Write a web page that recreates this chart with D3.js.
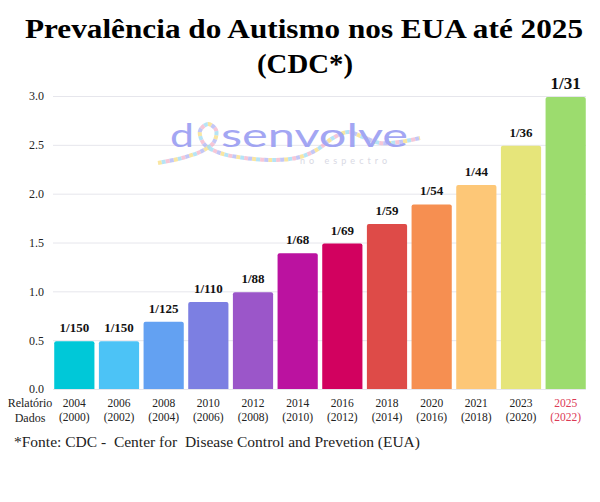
<!DOCTYPE html>
<html>
<head>
<meta charset="utf-8">
<script src="https://cdn.jsdelivr.net/npm/d3@7"></script>
<style>
  body { margin: 0; background: #fff; }
  svg { display: block; }
</style>
</head>
<body>
<script>
// dados
const anos = ['2004', '2006', '2008', '2010', '2012', '2014', '2016', '2018', '2020', '2021', '2023', '2025'];
const anosDados = ['(2000)', '(2002)', '(2004)', '(2006)', '(2008)', '(2010)', '(2012)', '(2014)', '(2016)', '(2018)', '(2020)', '(2022)'];
const valores = [0.5, 0.5, 0.7, 0.9, 1.0, 1.4, 1.5, 1.7, 1.9, 2.1, 2.5, 3.0];
const rotulos = ['1/150', '1/150', '1/125', '1/110', '1/88', '1/68', '1/69', '1/59', '1/54', '1/44', '1/36', '1/31'];
const cores = ['#00c8d8', '#4cc3f6', '#63a1f2', '#7c7fe2', '#9b56c9', '#bb12a0', '#d2015f', '#de4b48', '#f68f51', '#fdc777', '#e6e57a', '#9cdc6e'];
const ticksY = [0, 0.5, 1.0, 1.5, 2.0, 2.5, 3.0];

const width = 600;
const height = 502;
const serif = '"Liberation Serif", "Times New Roman", serif';

const svg = d3.select('body').append('svg')
    .attr('width', width)
    .attr('height', height);

const x = d3.scaleBand()
    .domain(anos)
    .range([52, 588])
    .paddingInner(0.1)
    .paddingOuter(0.05);

const y = d3.scaleLinear()
    .domain([0, 3])
    .range([389, 96]);

const ultimo = valores.length - 1;

// título
svg.append('text')
    .attr('x', 304).attr('y', 38)
    .attr('text-anchor', 'middle')
    .attr('textLength', 558)
    .attr('lengthAdjust', 'spacingAndGlyphs')
    .style('font', `bold 27px ${serif}`)
    .text('Prevalência do Autismo nos EUA até 2025');
svg.append('text')
    .attr('x', 305).attr('y', 73)
    .attr('text-anchor', 'middle')
    .attr('textLength', 96)
    .attr('lengthAdjust', 'spacingAndGlyphs')
    .style('font', `bold 27px ${serif}`)
    .text('(CDC*)');

// grade + eixo y
const eixoY = svg.append('g')
    .attr('transform', 'translate(53,0)')
    .call(d3.axisLeft(y).tickValues(ticksY).tickFormat(d3.format('.1f')).tickSize(-(586 - 53)).tickPadding(9));
eixoY.select('.domain').remove();
eixoY.selectAll('line').attr('stroke', '#e6e6ec').attr('stroke-width', 1);
eixoY.selectAll('text')
    .style('font', `12px ${serif}`)
    .attr('fill', '#222');

// marca d'água "desenvolve no espectro"
const logo = svg.append('g').attr('opacity', 0.8);
const fita = d3.line().curve(d3.curveCatmullRom);
const pontosFita = [[158, 163], [182, 158], [202, 151], [214, 142], [216, 130], [208, 124], [200, 131], [204, 144], [220, 153], [245, 158], [275, 160], [300, 157], [318, 149], [333, 138], [348, 132], [363, 137], [380, 143], [400, 142], [420, 138]];
['#f6d86e', '#8fd6f2', '#f3a9c2', '#a3a9f2'].forEach((c, i) => {
    logo.append('path')
        .attr('d', fita(pontosFita))
        .attr('fill', 'none')
        .attr('stroke', c)
        .attr('stroke-width', 4)
        .attr('stroke-dasharray', '4 12')
        .attr('stroke-dashoffset', -i * 4)
        .attr('opacity', 0.8);
});
logo.append('text')
    .attr('x', 170).attr('y', 147)
    .attr('textLength', 24)
    .attr('lengthAdjust', 'spacingAndGlyphs')
    .attr('fill', '#8d91f1')
    .style('font', '33px Lato, "Open Sans", sans-serif')
    .text('d');
logo.append('text')
    .attr('x', 221).attr('y', 147)
    .attr('textLength', 187)
    .attr('lengthAdjust', 'spacingAndGlyphs')
    .attr('fill', '#8d91f1')
    .style('font', '33px Lato, "Open Sans", sans-serif')
    .text('senvolve');
logo.append('text')
    .attr('x', 300).attr('y', 164)
    .attr('textLength', 87)
    .attr('fill', '#cfd0dd')
    .style('font', '9px Lato, "Open Sans", sans-serif')
    .text('no espectro');

// barras
svg.append('g').selectAll('path')
    .data(valores)
    .join('path')
    .attr('fill', (d, i) => cores[i])
    .attr('d', (d, i) => {
        const x0 = x(anos[i]), w = x.bandwidth(), y0 = y(d) + 1, r = 2;
        return `M${x0},${y(0)} V${y0 + r} Q${x0},${y0} ${x0 + r},${y0} H${x0 + w - r} Q${x0 + w},${y0} ${x0 + w},${y0 + r} V${y(0)} Z`;
    });

// rótulos das barras
svg.append('g').selectAll('text')
    .data(valores)
    .join('text')
    .attr('x', (d, i) => x(anos[i]) + x.bandwidth() / 2)
    .attr('y', (d, i) => y(d) - (i === ultimo ? 7 : 8))
    .attr('text-anchor', 'middle')
    .attr('fill', '#111')
    .style('font', (d, i) => `bold ${i === ultimo ? 17 : 13}px ${serif}`)
    .text((d, i) => rotulos[i]);

// eixo x
const corEixo = (d, i) => i === ultimo ? '#dc3a55' : '#222';
const eixoX = svg.append('g');
eixoX.selectAll('text.ano')
    .data(anos)
    .join('text')
    .attr('class', 'ano')
    .attr('x', d => x(d) + x.bandwidth() / 2)
    .attr('y', 407)
    .attr('text-anchor', 'middle')
    .attr('fill', corEixo)
    .style('font', `11.5px ${serif}`)
    .text(d => d);
eixoX.selectAll('text.dados')
    .data(anosDados)
    .join('text')
    .attr('class', 'dados')
    .attr('x', (d, i) => x(anos[i]) + x.bandwidth() / 2)
    .attr('y', 421)
    .attr('text-anchor', 'middle')
    .attr('fill', corEixo)
    .style('font', `11.5px ${serif}`)
    .text(d => d);
eixoX.append('text')
    .attr('x', 30).attr('y', 407)
    .attr('text-anchor', 'middle')
    .attr('fill', '#222')
    .style('font', `12px ${serif}`)
    .text('Relatório');
eixoX.append('text')
    .attr('x', 30).attr('y', 422)
    .attr('text-anchor', 'middle')
    .attr('fill', '#222')
    .style('font', `12px ${serif}`)
    .text('Dados');

// fonte
svg.append('text')
    .attr('x', 14).attr('y', 447)
    .attr('fill', '#222')
    .style('font', `15.5px ${serif}`)
    .style('white-space', 'pre')
    .text('*Fonte: CDC -  Center for  Disease Control and Prevetion (EUA)');
</script>
</body>
</html>
